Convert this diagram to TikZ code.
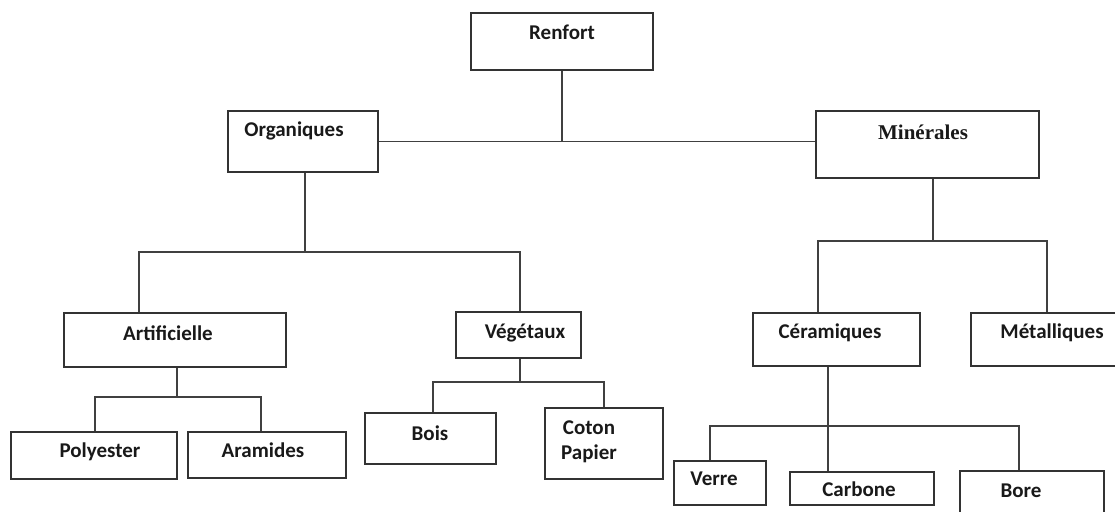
\documentclass[tikz,border=0pt]{standalone}
\usepackage{fontspec}
\newfontfamily\carl{Carlito}
\newfontfamily\tms{Liberation Serif}
\begin{document}
\begin{tikzpicture}[x=1pt,y=-1pt,
  box/.style={draw=black!80, line width=1.3pt, inner sep=0pt, fill=white},
  lbl/.style={font=\carl\bfseries\fontsize{21}{25}\selectfont, inner sep=0pt, text=black!90},
  lblserif/.style={font=\tms\bfseries\fontsize{21}{25}\selectfont, inner sep=0pt, text=black!90},
  conn/.style={draw=black!75, line width=1.5pt}]
\useasboundingbox (0,0) rectangle (1115,511);
% boxes
\node[box, minimum width=182pt, minimum height=57pt] (ren) at (562,41.5) {};
\node[box, minimum width=150pt, minimum height=61pt] (org) at (303,141.5) {};
\node[box, minimum width=223pt, minimum height=67pt] (min) at (927.5,144.5) {};
\node[box, minimum width=222pt, minimum height=54pt] (art) at (175,340) {};
\node[box, minimum width=125pt, minimum height=46pt] (veg) at (518.5,335) {};
\node[box, minimum width=167pt, minimum height=53pt] (cer) at (836.5,339.5) {};
\node[box, minimum width=154pt, minimum height=53pt] (met) at (1048,339.5) {};
\node[box, minimum width=166pt, minimum height=47pt] (pol) at (94,455.5) {};
\node[box, minimum width=158pt, minimum height=46pt] (ara) at (267,455) {};
\node[box, minimum width=131pt, minimum height=51pt] (boi) at (430.5,438.5) {};
\node[box, minimum width=118pt, minimum height=71pt] (cot) at (604,443.5) {};
\node[box, minimum width=92pt, minimum height=44pt] (ver) at (720,483) {};
\node[box, minimum width=144pt, minimum height=33pt] (car) at (862,488.5) {};
\node[box, minimum width=144pt, minimum height=49pt] (bor) at (1032,495.5) {};
% labels
\node[lbl] (tren) at (562,32) {Renfort};
\node[lbl] (torg) at (294,131) {Organiques};
\node[lblserif] (tmin) at (923,132) {Minérales};
\node[lbl] (tart) at (168,333) {Artificielle};
\node[lbl] (tveg) at (525,333) {Végétaux};
\node[lbl] (tcer) at (830,333) {Céramiques};
\node[lbl] (tmet) at (1052,333) {Métalliques};
\node[lbl] (tpol) at (100,452) {Polyester};
\node[lbl] (tara) at (263,450) {Aramides};
\node[lbl] (tboi) at (430,433) {Bois};
\node[lbl] (tcot) at (589,428) {Coton};
\node[lbl] (tpap) at (589,454) {Papier};
\node[lbl] (tver) at (714,479) {Verre};
\node[lbl] (tcar) at (859,489) {Carbone};
\node[lbl] (tbor) at (1021,491) {Bore};
% junction coordinates
\coordinate (oj) at (305,252);
\coordinate (oa) at (139,252);
\coordinate (ov) at (520,252);
\coordinate (mj) at (933,241);
\coordinate (mc) at (818,241);
\coordinate (mm) at (1047,241);
\coordinate (aj) at (177,397);
\coordinate (ap) at (95,397);
\coordinate (aa) at (261,397);
\coordinate (vj) at (520,382);
\coordinate (vb) at (433,382);
\coordinate (vc) at (604,382);
\coordinate (cj) at (828,426);
\coordinate (cv) at (710,426);
\coordinate (cb) at (1019,426);
% connectors
\draw[conn] (ren.south) -- (ren.south |- org.east);
\draw[conn] (org.east) -- (min.west |- org.east);
\draw[conn] (org.south -| oj) -- (oj);
\draw[conn] (oa |- art.north) -- (oa) -- (ov) -- (ov |- veg.north);
\draw[conn] (min.south -| mj) -- (mj);
\draw[conn] (mc |- cer.north) -- (mc) -- (mm) -- (mm |- met.north);
\draw[conn] (art.south -| aj) -- (aj);
\draw[conn] (ap |- pol.north) -- (ap) -- (aa) -- (aa |- ara.north);
\draw[conn] (veg.south -| vj) -- (vj);
\draw[conn] (vb |- boi.north) -- (vb) -- (vc) -- (vc |- cot.north);
\draw[conn] (cer.south -| cj) -- (cj |- car.north);
\draw[conn] (cv |- ver.north) -- (cv) -- (cb) -- (cb |- bor.north);
\end{tikzpicture}
\end{document}
